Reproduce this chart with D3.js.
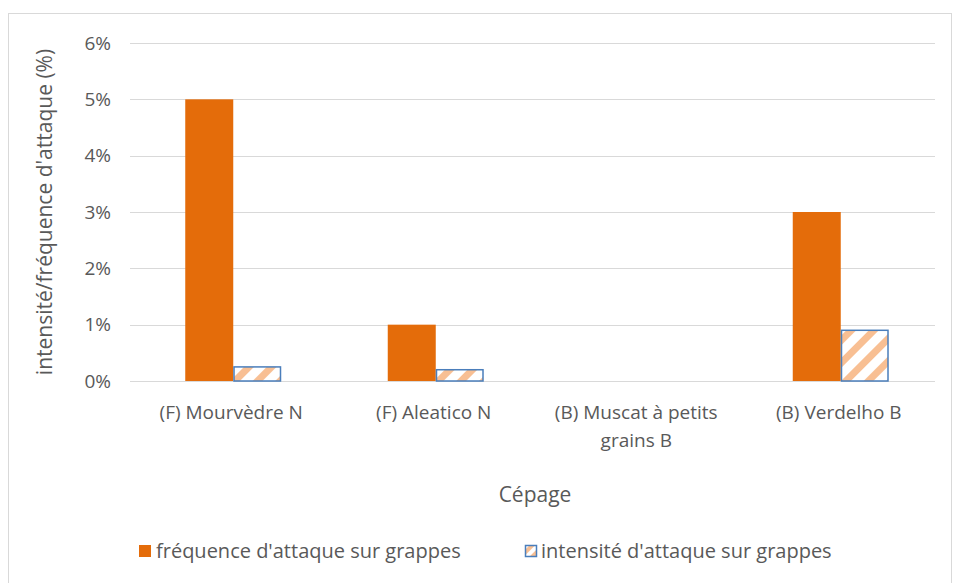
<!DOCTYPE html>
<html>
<head>
<meta charset="utf-8">
<script src="https://cdn.jsdelivr.net/npm/d3@7"></script>
<style>
  body { margin: 0; background: #fff; }
  text { font-family: "Open Sans", "Liberation Sans", sans-serif; fill: #595959; }
</style>
</head>
<body>
<svg id="chart"></svg>
<script>
// chart data
const categories = ['(F) Mourvèdre N', '(F) Aleatico N', '(B) Muscat à petits grains B', '(B) Verdelho B']
const frequence = [5, 1, 0, 3]
const intensite = [0.25, 0.2, 0, 0.9]
const yTicks = [0, 1, 2, 3, 4, 5, 6]
const seriesNames = ["fréquence d'attaque sur grappes", "intensité d'attaque sur grappes"]

const width = 957
const height = 583
const margin = { top: 43, right: 17, bottom: 202, left: 130 }

const svg = d3.select('#chart')
    .attr('width', width)
    .attr('height', height)

// hatch pattern for the second series
const defs = svg.append('defs')
const pat = defs.append('pattern')
    .attr('id', 'hatch')
    .attr('patternUnits', 'userSpaceOnUse')
    .attr('width', 16)
    .attr('height', 16)
    .attr('patternTransform', 'rotate(45)')
pat.append('rect').attr('width', 16).attr('height', 16).attr('fill', '#fff')
pat.append('rect').attr('x', 0).attr('width', 7).attr('height', 16).attr('fill', '#f8bf93')

// outer frame
svg.append('rect')
    .attr('x', 8.5).attr('y', 13.5)
    .attr('width', 943).attr('height', 580)
    .attr('fill', 'none')
    .attr('stroke', '#d9d9d9')

const x = d3.scaleBand()
    .domain(categories)
    .range([margin.left, width - margin.right])

const y = d3.scaleLinear()
    .domain([0, 6])
    .range([height - margin.bottom, margin.top])

// gridlines
svg.append('g')
    .selectAll('line')
    .data(yTicks)
    .join('line')
    .attr('x1', margin.left)
    .attr('x2', width - margin.right - 5)
    .attr('y1', d => Math.round(y(d)) + 0.5)
    .attr('y2', d => Math.round(y(d)) + 0.5)
    .attr('stroke', '#d9d9d9')
    .attr('stroke-width', 1)

// y tick labels
svg.append('g')
    .selectAll('text')
    .data(yTicks)
    .join('text')
    .attr('x', margin.left - 19)
    .attr('y', d => y(d))
    .attr('dy', '0.35em')
    .attr('text-anchor', 'end')
    .style('font-size', '19px')
    .text(d => d + '%')

const bw = 48
const cx = c => x(c) + x.bandwidth() / 2 + 2

// orange bars
svg.append('g')
    .selectAll('rect')
    .data(categories)
    .join('rect')
    .attr('x', c => cx(c) - bw)
    .attr('y', (c, i) => y(frequence[i]))
    .attr('width', bw)
    .attr('height', (c, i) => y(0) - y(frequence[i]))
    .attr('fill', '#e46c0a')

// hatched bars
svg.append('g')
    .selectAll('rect')
    .data(categories.filter((c, i) => intensite[i] > 0))
    .join('rect')
    .attr('x', c => cx(c) + 0.75)
    .attr('y', c => y(intensite[categories.indexOf(c)]))
    .attr('width', bw - 1.5)
    .attr('height', c => y(0) - y(intensite[categories.indexOf(c)]))
    .attr('fill', 'url(#hatch)')
    .attr('stroke', '#4a7ebb')
    .attr('stroke-width', 1.5)

// x labels (wrapped)
const xl = svg.append('g')
    .selectAll('text')
    .data(categories)
    .join('text')
    .attr('x', c => x(c) + x.bandwidth() / 2)
    .attr('y', 419)
    .attr('text-anchor', 'middle')
    .style('font-size', '19px')
xl.each(function (c) {
    const t = d3.select(this)
    const lines = c === '(B) Muscat à petits grains B' ? ['(B) Muscat à petits', 'grains B'] : [c]
    lines.forEach((l, k) => {
        t.append('tspan')
            .attr('x', x(c) + x.bandwidth() / 2)
            .attr('dy', k === 0 ? 0 : 28)
            .text(l)
    })
})

// axis titles
svg.append('text')
    .attr('x', 535)
    .attr('y', 502)
    .attr('text-anchor', 'middle')
    .style('font-size', '21px')
    .text('Cépage')

svg.append('text')
    .attr('transform', 'translate(52,212) rotate(-90)')
    .attr('text-anchor', 'middle')
    .style('font-size', '21px')
    .text("intensité/fréquence d'attaque (%)")

// legend
const leg = svg.append('g')
leg.append('rect')
    .attr('x', 139).attr('y', 545)
    .attr('width', 12).attr('height', 12)
    .attr('fill', '#e46c0a')
leg.append('text')
    .attr('x', 156).attr('y', 551)
    .attr('dy', '0.35em')
    .style('font-size', '20px')
    .text(seriesNames[0])

const pat2 = defs.append('pattern')
    .attr('id', 'hatch2')
    .attr('patternUnits', 'userSpaceOnUse')
    .attr('width', 8)
    .attr('height', 8)
    .attr('patternTransform', 'rotate(45)')
pat2.append('rect').attr('width', 8).attr('height', 8).attr('fill', '#fff')
pat2.append('rect').attr('width', 4).attr('height', 8).attr('fill', '#f8bf93')

leg.append('rect')
    .attr('x', 525.5).attr('y', 545.5)
    .attr('width', 11).attr('height', 11)
    .attr('fill', 'url(#hatch2)')
    .attr('stroke', '#4a7ebb')
    .attr('stroke-width', 1.5)
leg.append('text')
    .attr('x', 541).attr('y', 551)
    .attr('dy', '0.35em')
    .style('font-size', '20px')
    .text(seriesNames[1])
</script>
</body>
</html>
